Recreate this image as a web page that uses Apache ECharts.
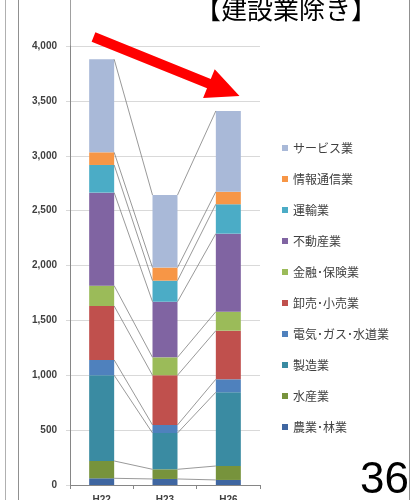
<!DOCTYPE html>
<html>
<head>
<meta charset="utf-8">
<script src="https://cdn.jsdelivr.net/npm/echarts@6/dist/echarts.min.js"></script>
<style>
  html, body { margin: 0; padding: 0; background: #fff; }
  #chart { width: 412px; height: 500px; }
</style>
</head>
<body>
<div id="chart"></div>
<script>
// Fiscal years on the category axis
const categories = ['H22', 'H23', 'H26'];

// Output by industry (stacked bottom to top)
const agriForestry = [61, 55, 46];       // 農業･林業
const fishery = [158, 88, 127];          // 水産業
const manufacturing = [781, 331, 672];   // 製造業
const utilities = [139, 73, 118];        // 電気･ガス･水道業
const tradeRetail = [492, 453, 443];     // 卸売･小売業
const financeIns = [185, 163, 173];      // 金融･保険業
const realEstate = [848, 507, 711];      // 不動産業
const transport = [252, 192, 268];       // 運輸業
const infoComm = [115, 119, 114];        // 情報通信業
const services = [848, 661, 736];        // サービス業

// Y axis ticks
const yTicks = [0, 500, 1000, 1500, 2000, 2500, 3000, 3500, 4000];

const seriesDefs = [
  { name: '農業･林業', data: agriForestry, color: '#3F66A1' },
  { name: '水産業', data: fishery, color: '#77933C' },
  { name: '製造業', data: manufacturing, color: '#3A8BA2' },
  { name: '電気･ガス･水道業', data: utilities, color: '#4F81BD' },
  { name: '卸売･小売業', data: tradeRetail, color: '#C0504D' },
  { name: '金融･保険業', data: financeIns, color: '#9BBB59' },
  { name: '不動産業', data: realEstate, color: '#8064A2' },
  { name: '運輸業', data: transport, color: '#4BACC6' },
  { name: '情報通信業', data: infoComm, color: '#F79646' },
  { name: 'サービス業', data: services, color: '#A9B9D8' }
];

const BAR_W = 25;
const JP = '"Noto Sans CJK JP", sans-serif';

// Cumulative tops of each stacked segment, used for the series lines
const tops = [];
let running = categories.map(() => 0);
seriesDefs.forEach(s => {
  running = running.map((v, i) => v + s.data[i]);
  tops.push(running.slice());
});
const connectorData = [];
tops.forEach(t => {
  for (let i = 0; i < categories.length - 1; i++) {
    connectorData.push([i, t[i], t[i + 1]]);
  }
});

const barSeries = seriesDefs.map(s => ({
  name: s.name,
  type: 'bar',
  stack: 'total',
  barWidth: BAR_W,
  data: s.data,
  itemStyle: { color: s.color },
  emphasis: { disabled: true }
}));

const connectorSeries = {
  type: 'custom',
  name: 'lines',
  data: connectorData,
  z: 5,
  silent: true,
  renderItem: function (params, api) {
    const i = api.value(0);
    const p1 = api.coord([i, api.value(1)]);
    const p2 = api.coord([i + 1, api.value(2)]);
    return {
      type: 'line',
      shape: { x1: p1[0] + BAR_W / 2, y1: p1[1], x2: p2[0] - BAR_W / 2, y2: p2[1] },
      style: { stroke: '#7F7F7F', lineWidth: 0.8 }
    };
  }
};

const chart = echarts.init(document.getElementById('chart'), null, { renderer: 'canvas' });

// Arrow geometry (annotation)
const ax0 = 93.5, ay0 = 37, tipX = 239.5, tipY = 96;
const dx = tipX - ax0, dy = tipY - ay0, len = Math.hypot(dx, dy);
const ux = dx / len, uy = dy / len, px = -uy, py = ux;
const headLen = 33, headHalf = 15.5, shaftHalf = 5;
const bx = tipX - ux * headLen, by = tipY - uy * headLen;
const arrowPts = [
  [ax0 + px * shaftHalf, ay0 + py * shaftHalf],
  [bx + px * shaftHalf, by + py * shaftHalf],
  [bx + px * headHalf, by + py * headHalf],
  [tipX, tipY],
  [bx - px * headHalf, by - py * headHalf],
  [bx - px * shaftHalf, by - py * shaftHalf],
  [ax0 - px * shaftHalf, ay0 - py * shaftHalf]
];

chart.setOption({
  animation: false,
  backgroundColor: '#ffffff',
  grid: { left: 70, right: 152, top: 46, bottom: 15, containLabel: false, outerBoundsMode: 'none' },
  legend: {
    orient: 'vertical',
    left: 277,
    top: 137,
    itemWidth: 6,
    itemHeight: 6,
    itemGap: 19,
    icon: 'rect',
    selectedMode: false,
    data: seriesDefs.map(s => s.name).reverse(),
    textStyle: { fontFamily: JP, fontSize: 12, color: '#404040', padding: [0, 0, 0, 0] }
  },
  xAxis: {
    type: 'category',
    data: categories,
    axisLine: { lineStyle: { color: '#868686', width: 1 } },
    axisTick: { show: true, alignWithLabel: false, length: 4, lineStyle: { color: '#868686' } },
    axisLabel: { margin: 10, fontSize: 10, fontWeight: 'bold', color: '#404040', fontFamily: 'Liberation Sans' }
  },
  yAxis: {
    type: 'value',
    min: yTicks[0],
    max: yTicks[yTicks.length - 1],
    interval: 500,
    axisLine: { show: true, lineStyle: { color: '#868686', width: 1 } },
    axisTick: { show: true, length: 4, lineStyle: { color: '#D9D9D9' } },
    splitLine: { lineStyle: { color: '#D9D9D9', width: 1 } },
    axisLabel: {
      margin: 13,
      fontSize: 10,
      fontWeight: 'bold',
      color: '#404040',
      fontFamily: 'Liberation Sans',
      formatter: v => v.toLocaleString('en-US')
    }
  },
  graphic: [
    { type: 'line', shape: { x1: 5.5, y1: 0, x2: 5.5, y2: 500 }, style: { stroke: '#B0B0B0', lineWidth: 1 } },
    { type: 'line', shape: { x1: 18.5, y1: 0, x2: 18.5, y2: 500 }, style: { stroke: '#909090', lineWidth: 1 } },
    { type: 'line', shape: { x1: 70.5, y1: 0, x2: 70.5, y2: 46 }, style: { stroke: '#A0A0A0', lineWidth: 1 } },
    { type: 'line', shape: { x1: 409.5, y1: 0, x2: 409.5, y2: 500 }, style: { stroke: '#909090', lineWidth: 1 } },
    {
      type: 'text', left: 195, top: -4,
      style: { text: '【建設業除き】', font: '26px ' + JP, fill: '#000000' }
    },
    {
      type: 'text', left: 360, top: 459,
      style: { text: '36', font: '44px "Liberation Sans", Arial, sans-serif', fill: '#000000' }
    },
    {
      type: 'polygon', z: 100,
      shape: { points: arrowPts },
      style: { fill: '#FF0000' }
    }
  ],
  series: barSeries.concat([connectorSeries])
});
</script>
</body>
</html>
